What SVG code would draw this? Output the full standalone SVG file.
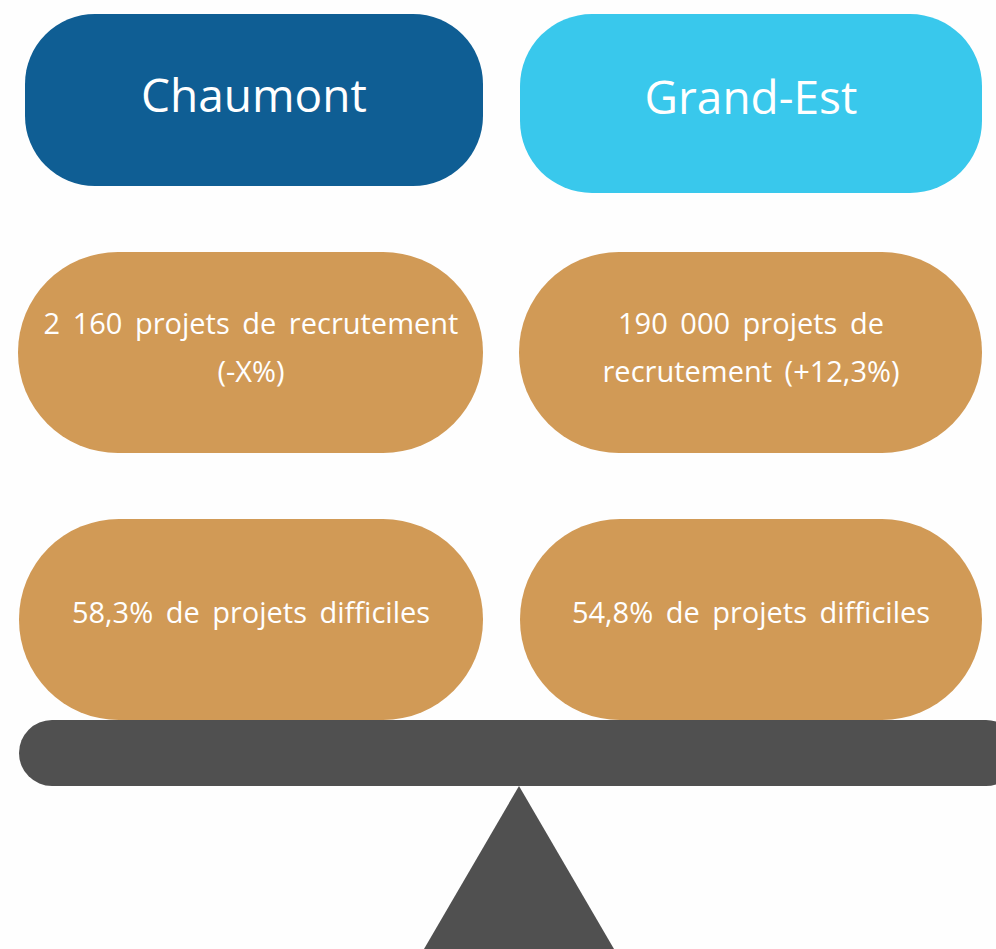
<svg xmlns="http://www.w3.org/2000/svg" width="996" height="949" viewBox="0 0 996 949">
<style>
.t{font-family:"Open Sans","Noto Sans",sans-serif;fill:#ffffff;text-anchor:middle}
.h{font-size:46px}
.b{font-size:29px;word-spacing:5px}
.tan{fill:#D19A56}
.gray{fill:#505050}
</style>
<rect width="996" height="949" fill="#fefefe"/>
<g id="chaumont">
<rect x="25" y="14" width="458" height="172" rx="70" ry="70" fill="#0F5E94"/>
<text class="t h" x="254" y="112">Chaumont</text>
</g>
<g id="grand-est">
<rect x="520" y="14" width="462" height="179" rx="72" ry="72" fill="#39C8EC"/>
<text class="t h" x="751" y="114">Grand-Est</text>
</g>
<g id="chaumont-recrutement">
<rect class="tan" x="18" y="252" width="465" height="201" rx="100" ry="100"/>
<text class="t b" x="251" y="334">2 160 projets de recrutement</text>
<text class="t b" x="251" y="382">(-X%)</text>
</g>
<g id="grandest-recrutement">
<rect class="tan" x="519" y="252" width="463" height="201" rx="100" ry="100"/>
<text class="t b" x="751" y="334">190 000 projets de</text>
<text class="t b" x="751" y="382">recrutement (+12,3%)</text>
</g>
<g id="chaumont-difficiles">
<rect class="tan" x="19" y="519" width="464" height="201" rx="100" ry="100"/>
<text class="t b" x="251" y="623">58,3% de projets difficiles</text>
</g>
<g id="grandest-difficiles">
<rect class="tan" x="520" y="519" width="462" height="201" rx="100" ry="100"/>
<text class="t b" x="751" y="623">54,8% de projets difficiles</text>
</g>
<g id="balance">
<rect class="gray" x="19" y="720" width="1000" height="66" rx="33" ry="33"/>
<polygon class="gray" points="519,786 614,949 424,949"/>
</g>
</svg>
